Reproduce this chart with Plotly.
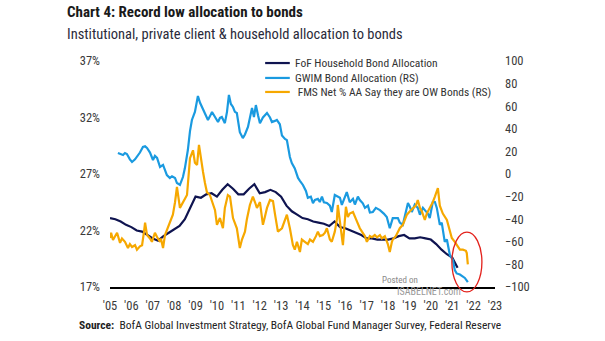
import plotly.graph_objects as go

# ---- FoF household bond allocation (quarterly, % of assets, left axis) ----
fof_start = 2005.0
fof_vals = [
    23.1, 23.0, 22.8, 22.5,
    22.3, 22.0, 21.9, 21.6,
    21.3, 21.1, 21.5, 21.8,
    22.1, 22.4, 23.0, 24.0,
    25.0, 24.9, 25.2, 25.3,
    25.0, 25.6, 26.1, 25.7,
    25.2, 25.2, 25.7, 26.1,
    25.3, 25.4, 25.6, 25.4,
    25.0, 24.2, 23.7, 23.4,
    23.1, 23.0, 22.8, 22.7,
    22.6, 22.4, 22.8, 22.3,
    22.2, 22.0, 21.8, 21.6,
    21.3, 21.3, 21.2, 21.2,
    21.2, 21.3, 21.5, 21.6,
    21.3, 21.3, 21.4, 21.3,
    21.2, 20.8, 20.3, 19.9,
    19.6, 18.7,
]
fof_x = [fof_start + 0.25 * i for i in range(len(fof_vals))]

# ---- GWIM bond allocation (right axis) ----
gwim_x = [
    2005.37, 2005.51, 2005.61, 2005.70, 2005.79, 2005.93, 2006.03, 2006.17, 2006.26, 2006.40,
    2006.54, 2006.64, 2006.73, 2006.87, 2007.01, 2007.10, 2007.20, 2007.34, 2007.48, 2007.57,
    2007.66, 2007.80, 2007.90, 2008.04, 2008.13, 2008.27, 2008.36, 2008.41, 2008.50, 2008.64,
    2008.74, 2008.83, 2008.97, 2009.11, 2009.21, 2009.30, 2009.44, 2009.58, 2009.67, 2009.77,
    2009.91, 2010.05, 2010.14, 2010.23, 2010.37, 2010.47, 2010.56, 2010.65, 2010.75, 2010.84,
    2010.93, 2011.07, 2011.21, 2011.31, 2011.45, 2011.54, 2011.64, 2011.73, 2011.82, 2011.92,
    2012.01, 2012.15, 2012.34, 2012.48, 2012.57, 2012.71, 2012.80, 2012.94, 2013.04, 2013.18,
    2013.27, 2013.41, 2013.50, 2013.64, 2013.79, 2013.88, 2014.02, 2014.16, 2014.25, 2014.39,
    2014.49, 2014.58, 2014.72, 2014.81, 2014.91, 2015.00, 2015.14, 2015.28, 2015.37, 2015.51,
    2015.65, 2015.75, 2015.84, 2015.98, 2016.07, 2016.21, 2016.36, 2016.45, 2016.59, 2016.68,
    2016.82, 2016.92, 2017.06, 2017.15, 2017.29, 2017.43, 2017.62, 2017.80, 2017.94, 2018.08,
    2018.22, 2018.46, 2018.55, 2018.69, 2018.83, 2018.93, 2019.02, 2019.11, 2019.25, 2019.39,
    2019.49, 2019.63, 2019.72, 2019.86, 2019.95, 2020.09, 2020.19, 2020.28, 2020.42, 2020.51,
    2020.65, 2020.75, 2020.89, 2021.03, 2021.12, 2021.21, 2021.36, 2021.45, 2021.59, 2021.73,
]
gwim_vals = [
    18.6, 17.5, 16.8, 18.5, 17.7, 13.0, 10.6, 13.0, 15.0, 19.0,
    23.9, 24.5, 23.0, 19.0, 12.4, 16.0, 14.2, 6.2, 8.0, 3.0,
    -0.9, -3.5, -2.0, -3.5, -8.0, -9.7, -6.0, -2.7, 5.0, 21.2,
    38.0, 47.8, 54.9, 69.0, 63.0, 59.3, 54.9, 47.8, 51.0, 54.9,
    50.4, 46.0, 49.6, 50.4, 45.0, 55.0, 70.0, 62.0, 59.3, 55.0,
    54.0, 37.0, 31.8, 35.0, 41.6, 50.0, 58.4, 50.4, 61.0, 52.0,
    45.0, 50.0, 54.0, 50.0, 46.0, 47.0, 47.8, 44.0, 34.0, 31.0,
    30.0, 15.0, 9.7, 5.0, -3.5, -6.0, -9.7, -15.0, -21.0, -20.0,
    -25.7, -23.0, -22.0, -24.8, -20.0, -25.0, -25.7, -28.0, -33.6, -18.6,
    -20.4, -21.0, -27.4, -20.0, -16.0, -25.0, -22.0, -27.0, -20.0, -23.0,
    -26.0, -30.0, -28.0, -34.0, -33.6, -30.0, -32.0, -35.0, -38.0, -48.0,
    -39.0, -39.0, -43.0, -45.0, -35.0, -25.7, -29.0, -33.6, -27.0, -30.0,
    -36.0, -30.0, -32.0, -35.0, -39.0, -24.8, -24.8, -30.0, -45.0, -43.0,
    -60.0, -58.0, -71.7, -76.0, -85.0, -88.0, -89.0, -90.0, -92.0, -95.6,
]

# ---- FMS net % of asset allocators overweight bonds (right axis) ----
fms_x = [
    2005.00, 2005.05, 2005.14, 2005.23, 2005.33, 2005.47, 2005.56, 2005.70, 2005.84, 2005.93,
    2006.03, 2006.17, 2006.26, 2006.40, 2006.50, 2006.59, 2006.64, 2006.73, 2006.87, 2006.96,
    2007.10, 2007.20, 2007.34, 2007.38, 2007.48, 2007.57, 2007.66, 2007.80, 2007.94, 2008.04,
    2008.13, 2008.27, 2008.41, 2008.50, 2008.60, 2008.74, 2008.88, 2008.97, 2009.07, 2009.16,
    2009.25, 2009.35, 2009.44, 2009.53, 2009.67, 2009.81, 2009.91, 2010.00, 2010.14, 2010.28,
    2010.37, 2010.51, 2010.61, 2010.75, 2010.93, 2011.07, 2011.17, 2011.31, 2011.40, 2011.54,
    2011.68, 2011.78, 2011.87, 2012.01, 2012.15, 2012.24, 2012.34, 2012.48, 2012.62, 2012.71,
    2012.85, 2013.04, 2013.18, 2013.27, 2013.41, 2013.55, 2013.64, 2013.74, 2013.88, 2013.97,
    2014.11, 2014.25, 2014.35, 2014.49, 2014.63, 2014.72, 2014.81, 2014.95, 2015.05, 2015.14,
    2015.28, 2015.37, 2015.51, 2015.61, 2015.65, 2015.75, 2015.84, 2015.89, 2016.03, 2016.12,
    2016.21, 2016.36, 2016.50, 2016.59, 2016.68, 2016.78, 2016.92, 2017.01, 2017.15, 2017.24,
    2017.38, 2017.48, 2017.62, 2017.71, 2017.85, 2017.99, 2018.08, 2018.18, 2018.22, 2018.36,
    2018.46, 2018.55, 2018.69, 2018.79, 2018.88, 2019.02, 2019.16, 2019.30, 2019.39, 2019.49,
    2019.58, 2019.72, 2019.81, 2019.95, 2020.09, 2020.19, 2020.28, 2020.33, 2020.42, 2020.56,
    2020.75, 2020.89, 2020.98, 2021.12, 2021.21, 2021.36, 2021.50, 2021.64, 2021.68, 2021.73,
]
fms_vals = [
    -56.6, -52.0, -58.4, -55.0, -52.0, -61.0, -57.0, -60.0, -65.5, -62.0,
    -64.6, -63.0, -67.0, -64.0, -63.0, -51.0, -43.0, -54.0, -57.0, -60.0,
    -52.0, -55.8, -60.0, -57.0, -65.5, -54.0, -50.0, -43.0, -36.0, -25.0,
    -11.5, -30.0, -24.8, -22.0, -18.6, 14.0, 21.0, 10.0, 8.0, 25.7,
    12.0, 1.8, -8.0, -16.0, -18.6, -27.4, -32.0, -45.0, -39.0, -48.0,
    -30.0, -18.6, -20.0, -39.0, -48.0, -65.5, -58.0, -51.0, -40.0, -27.4,
    -20.0, -25.0, -30.0, -24.8, -45.0, -38.0, -30.0, -23.0, -24.0, -35.0,
    -51.0, -48.0, -40.0, -36.0, -48.0, -62.8, -67.0, -60.0, -69.0, -58.0,
    -60.0, -62.0, -58.0, -60.0, -55.0, -51.0, -55.0, -54.0, -52.0, -48.0,
    -58.0, -60.0, -51.0, -40.0, -27.4, -42.5, -60.0, -63.0, -29.0, -38.0,
    -35.0, -33.6, -40.0, -45.0, -48.0, -51.0, -55.0, -60.0, -55.0, -56.0,
    -54.0, -56.0, -54.0, -57.0, -55.0, -62.0, -69.0, -60.0, -58.0, -55.0,
    -51.0, -48.0, -45.0, -40.0, -36.0, -33.0, -30.0, -28.0, -23.0, -30.0,
    -33.0, -40.7, -35.0, -30.0, -25.0, -20.0, -14.0, -12.4, -28.0, -35.0,
    -40.7, -50.0, -56.6, -60.0, -63.0, -67.0, -67.0, -68.0, -70.0, -80.0,
]

# ---- axes ----
year_ticks = list(range(2005, 2024))
year_labels = ["'" + str(y)[2:] for y in year_ticks]
left_ticks = [17, 22, 27, 32, 37]
left_labels = [f"{v}%" for v in left_ticks]
right_ticks = list(range(-100, 101, 20))

series_names = [
    "FoF Household Bond Allocation",
    "GWIM Bond Allocation (RS)",
    "&nbsp;FMS Net % AA Say they are OW Bonds (RS)",
]

NAVY = "#0f1450"
BLUE = "#1a9ae0"
ORANGE = "#f6a800"
COLORS = [NAVY, BLUE, ORANGE]
FONT = "Roboto Condensed, Liberation Sans Narrow, Arial Narrow, sans-serif"
TICK_COLOR = "#3a3a3a"

fig = go.Figure()
fig.add_trace(go.Scatter(
    x=fof_x, y=fof_vals, name=series_names[0],
    mode="lines", line=dict(color=NAVY, width=2.2), yaxis="y",
))
fig.add_trace(go.Scatter(
    x=gwim_x, y=gwim_vals, name=series_names[1],
    mode="lines", line=dict(color=BLUE, width=2.2), yaxis="y2",
))
fig.add_trace(go.Scatter(
    x=fms_x, y=fms_vals, name=series_names[2],
    mode="lines", line=dict(color=ORANGE, width=2.2), yaxis="y2",
))

fig.update_layout(
    width=605, height=341,
    margin=dict(l=110, r=110, t=61, b=54),
    paper_bgcolor="white", plot_bgcolor="white",
    font=dict(family=FONT, color=TICK_COLOR, size=12.5),
    showlegend=False,
    xaxis=dict(
        range=[2005, 2023], tickmode="array", tickvals=year_ticks, ticktext=year_labels,
        showgrid=False, zeroline=False, showline=True, linecolor="#000000", linewidth=1.5,
        ticks="", ticklabelstandoff=6,
    ),
    yaxis=dict(
        range=[17, 37], tickmode="array", tickvals=left_ticks, ticktext=left_labels,
        showgrid=False, zeroline=False, showline=False, ticks="", ticklabelstandoff=9,
    ),
    yaxis2=dict(
        range=[-100, 100], tickmode="array", tickvals=right_ticks, overlaying="y", side="right",
        showgrid=False, zeroline=False, showline=False, ticks="", ticklabelstandoff=9,
    ),
)

# compact legend: short line samples with labels beside them
legend_x0, legend_x1, legend_text_x = 0.403, 0.467, 0.475
legend_rows = [0.991, 0.925, 0.863]
for name, color, ly in zip(series_names, COLORS, legend_rows):
    fig.add_shape(
        type="line", xref="paper", yref="paper",
        x0=legend_x0, x1=legend_x1, y0=ly, y1=ly,
        line=dict(color=color, width=2.2),
    )
    fig.add_annotation(
        xref="paper", yref="paper", x=legend_text_x, y=ly, xanchor="left", yanchor="middle",
        text=name, showarrow=False, font=dict(size=11.5, color="#333333", family=FONT),
    )

# titles, source and watermark text
fig.add_annotation(
    xref="paper", yref="paper", x=-0.117, y=1.217, xanchor="left", yanchor="middle",
    text="<b>Chart 4: Record low allocation to bonds</b>", showarrow=False,
    font=dict(size=15, color="#1a1a1a", family=FONT),
)
fig.add_annotation(
    xref="paper", yref="paper", x=-0.117, y=1.119, xanchor="left", yanchor="middle",
    text="Institutional, private client & household allocation to bonds", showarrow=False,
    font=dict(size=14.5, color="#2a2a3a", family=FONT),
)
fig.add_annotation(
    xref="paper", yref="paper", x=-0.086, y=-0.168, xanchor="left", yanchor="middle",
    text="<b>Source:</b>  BofA Global Investment Strategy, BofA Global Fund Manager Survey, Federal Reserve",
    showarrow=False, font=dict(size=11.5, color="#222222", family=FONT),
)
fig.add_annotation(
    xref="paper", yref="paper", x=0.70, y=0.031, xanchor="left", yanchor="middle",
    text="Posted on", showarrow=False, font=dict(size=9, color="#8a8a8a", family=FONT),
)
fig.add_annotation(
    xref="paper", yref="paper", x=0.74, y=-0.018, xanchor="left", yanchor="middle",
    text="ISABELNET.com", showarrow=False, font=dict(size=10, color="#9a9a9a", family=FONT),
)

# red ellipse highlighting the latest readings
fig.add_shape(
    type="circle", xref="paper", yref="paper",
    x0=0.888, x1=0.966, y0=-0.022, y1=0.243,
    line=dict(color="#e3221c", width=1.3), layer="above",
)

fig.write_html("out.html")
